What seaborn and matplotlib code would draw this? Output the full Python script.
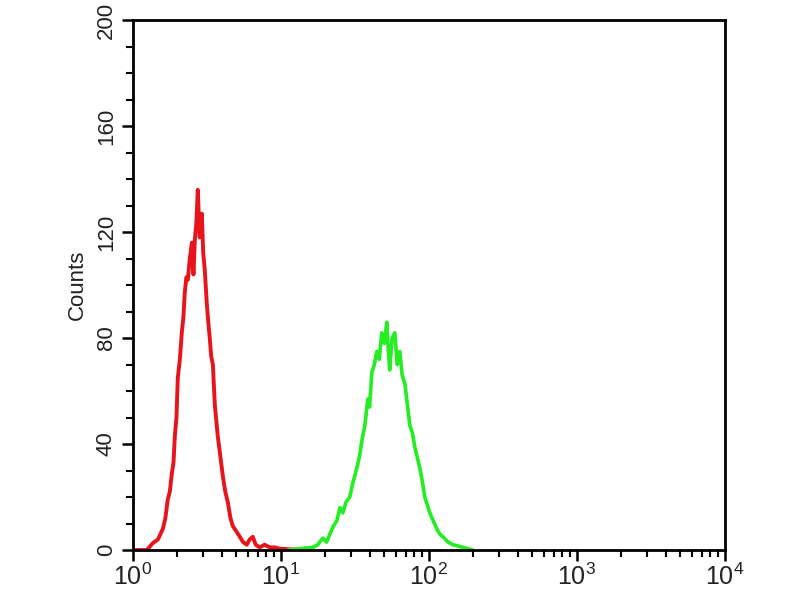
import numpy as np
import pandas as pd
import matplotlib
matplotlib.use("Agg")
import matplotlib.pyplot as plt
from matplotlib.ticker import LogLocator, MultipleLocator, FixedLocator, NullFormatter
import seaborn as sns

# log10 fluorescence positions and counts
red_log = [0.0, 0.095, 0.135, 0.17, 0.203, 0.22, 0.236, 0.25, 0.264, 0.275, 0.284, 0.295,
           0.304, 0.318, 0.331, 0.342, 0.351, 0.362, 0.372, 0.385, 0.399, 0.41, 0.419,
           0.43, 0.439, 0.452, 0.466, 0.476, 0.486, 0.5, 0.51, 0.52, 0.53, 0.541, 0.554,
           0.574, 0.59, 0.608, 0.625, 0.642, 0.66, 0.676, 0.70, 0.723, 0.745, 0.770,
           0.79, 0.811, 0.83, 0.858, 0.89, 0.926, 0.96, 0.993, 1.05, 1.128]
red_cnt = [0, 0, 2.6, 4, 8, 12, 19, 22, 29, 33, 43, 50,
           65, 72, 82, 88, 97, 103, 102, 110, 116, 104, 117,
           124, 136, 118, 127, 112, 106, 93, 86, 80, 73, 70, 55,
           43, 36, 28, 22, 18, 12, 9, 7, 5, 3, 2,
           4, 5, 2, 1, 2, 1, 1, 0.5, 0.3, 0]

green_log = [1.05, 1.128, 1.17, 1.216, 1.25, 1.284, 1.31, 1.331, 1.355, 1.378, 1.40, 1.419,
             1.44, 1.466, 1.485, 1.5, 1.518, 1.534, 1.55, 1.568, 1.588, 1.60, 1.615, 1.632,
             1.649, 1.665, 1.682, 1.70, 1.716, 1.726, 1.736, 1.752, 1.770, 1.787, 1.804,
             1.82, 1.838, 1.855, 1.872, 1.89, 1.905, 1.922, 1.939, 1.956, 1.973, 1.99,
             2.007, 2.03, 2.054, 2.075, 2.095, 2.13, 2.162, 2.20, 2.230, 2.297]
green_cnt = [0, 0.5, 0.8, 1, 2, 4.5, 3, 6, 9, 11, 16, 14,
             18, 20, 25, 28, 32, 36, 42, 47, 57, 54, 67, 70,
             75, 72, 82, 78, 86, 76, 68, 80, 82, 70, 75,
             66, 63, 55, 47, 44, 39, 35, 31, 26, 20, 17,
             14, 11, 8, 6, 5, 3, 2, 1.5, 1, 0]

red_x = [10 ** v for v in red_log]
green_x = [10 ** v for v in green_log]

sns.set_style("ticks")
plt.rcParams['font.family'] = ['Liberation Sans', 'DejaVu Sans']
plt.rcParams['mathtext.fontset'] = 'custom'
plt.rcParams['mathtext.rm'] = 'Liberation Sans'
plt.rcParams['mathtext.it'] = 'Liberation Sans'

fig = plt.figure(figsize=(8, 6), dpi=100)
ax = fig.add_axes([0.166, 0.0833, 0.74, 0.883])

df_r = pd.DataFrame({"x": red_x, "y": red_cnt})
df_g = pd.DataFrame({"x": green_x, "y": green_cnt})
sns.lineplot(data=df_r, x="x", y="y", color="#e8141b", linewidth=2.8, estimator=None, ax=ax)
sns.lineplot(data=df_g, x="x", y="y", color="#22ee22", linewidth=2.6, estimator=None, ax=ax)

ax.set_xscale("log")
ax.set_xlim(1, 10 ** 4)
ax.set_ylim(0, 200)

ax.xaxis.set_major_locator(FixedLocator([1, 10, 100, 1000, 10000]))
ax.set_xticklabels([r"$10^{0}$", r"$10^{1}$", r"$10^{2}$", r"$10^{3}$", r"$10^{4}$"])
ax.xaxis.set_minor_locator(LogLocator(base=10, subs=np.arange(2, 10), numticks=20))
ax.xaxis.set_minor_formatter(NullFormatter())

ax.yaxis.set_major_locator(MultipleLocator(40))
ax.yaxis.set_minor_locator(MultipleLocator(10))
for lbl in ax.get_yticklabels():
    lbl.set_rotation(90)
    lbl.set_va("center")
    lbl.set_fontsize(16)
for lbl in ax.get_xticklabels():
    lbl.set_fontsize(18)

ax.tick_params(axis="both", which="major", direction="out", length=8, width=1.8,
               color="black", labelcolor="#222222")
ax.tick_params(axis="both", which="minor", direction="out", length=5, width=1.5, color="black")
ax.tick_params(axis="x", which="major", pad=2)

for s in ax.spines.values():
    s.set_visible(True)
    s.set_linewidth(2)
    s.set_color("black")

ax.set_xlabel("")
ax.set_ylabel("Counts", fontsize=16, color="#222222", labelpad=6)

fig.savefig("out.png", dpi=100)
